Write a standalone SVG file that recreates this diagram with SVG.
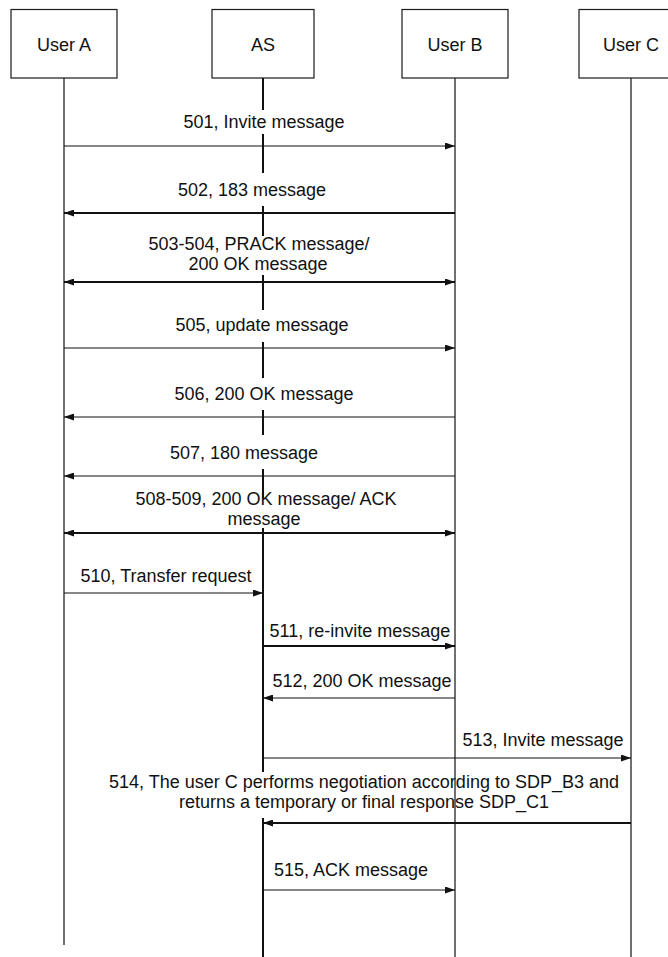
<svg xmlns="http://www.w3.org/2000/svg" width="668" height="957" viewBox="0 0 668 957">
  <style>
    .box { fill: #ffffff; stroke: #1a1a1a; stroke-width: 1.2; }
    .life { fill: none; stroke: #111111; stroke-width: 1.2; }
    .life-as { fill: none; stroke: #111111; stroke-width: 2; }
    .msg { fill: none; stroke: #111111; stroke-width: 1.2; }
    .msg-b { fill: none; stroke: #111111; stroke-width: 1.8; }
    .lbl { font-family: "Liberation Sans", Arial, sans-serif; font-size: 18px; fill: #111111; text-anchor: middle; }
  </style>
  <defs>
    <marker id="head" viewBox="0 0 10 7" refX="10" refY="3.5" markerWidth="10" markerHeight="7" markerUnits="userSpaceOnUse" orient="auto-start-reverse">
      <path d="M0,0 L10,3.5 L0,7 z" fill="#111111"/>
    </marker>
  </defs>
  <rect width="668" height="957" fill="#ffffff"/>

  <!-- participants -->
  <g id="user-a">
    <rect class="box" x="11" y="9.5" width="106" height="68.5"/>
    <text class="lbl" x="64" y="51">User A</text>
    <path class="life" d="M64,78 V945"/>
  </g>
  <g id="as">
    <rect class="box" x="212" y="9.5" width="102" height="68.5"/>
    <text class="lbl" x="263" y="51">AS</text>
    <!-- lifeline is interrupted where message labels sit on top of it -->
    <path class="life-as" d="M263,78 V110 M263,134 V173 M263,206 V236 M263,275 V310 M263,342 V378 M263,410 V435 M263,469 V498 M263,528 V772 M263,818 V957"/>
  </g>
  <g id="user-b">
    <rect class="box" x="402" y="9.5" width="106" height="68.5"/>
    <text class="lbl" x="455" y="51">User B</text>
    <path class="life" d="M455,78 V957"/>
  </g>
  <g id="user-c">
    <rect class="box" x="579" y="9.5" width="104" height="68.5"/>
    <text class="lbl" x="631" y="51">User C</text>
    <path class="life" d="M631,78 V957"/>
  </g>

  <!-- messages -->
  <g id="connectors">
    <path class="msg" d="M64,146 H455" marker-end="url(#head)"/>
    <path class="msg-b" d="M455,213 H64" marker-end="url(#head)"/>
    <path class="msg-b" d="M64,282 H455" marker-start="url(#head)" marker-end="url(#head)"/>
    <path class="msg" d="M64,348 H455" marker-end="url(#head)"/>
    <path class="msg" d="M455,417 H64" marker-end="url(#head)"/>
    <path class="msg" d="M455,476 H64" marker-end="url(#head)"/>
    <path class="msg-b" d="M64,533 H455" marker-start="url(#head)" marker-end="url(#head)"/>
    <path class="msg" d="M64,593 H263" marker-end="url(#head)"/>
    <path class="msg-b" d="M263,646 H455" marker-end="url(#head)"/>
    <path class="msg" d="M455,698 H263" marker-end="url(#head)"/>
    <path class="msg" d="M263,758 H631" marker-end="url(#head)"/>
    <path class="msg-b" d="M631,823 H263" marker-end="url(#head)"/>
    <path class="msg" d="M263,890 H455" marker-end="url(#head)"/>
  </g>

  <!-- message labels -->
  <g id="labels">
    <text class="lbl" x="264" y="128">501, Invite message</text>
    <text class="lbl" x="252" y="196">502, 183 message</text>
    <text class="lbl" x="259" y="250">503-504, PRACK message/</text>
    <text class="lbl" x="258" y="270">200 OK message</text>
    <text class="lbl" x="262" y="331">505, update message</text>
    <text class="lbl" x="264" y="400">506, 200 OK message</text>
    <text class="lbl" x="244" y="459">507, 180 message</text>
    <text class="lbl" x="266" y="505">508-509, 200 OK message/ ACK</text>
    <text class="lbl" x="264" y="525">message</text>
    <text class="lbl" x="166" y="582">510, Transfer request</text>
    <text class="lbl" x="360" y="637">511, re-invite message</text>
    <text class="lbl" x="362" y="687">512, 200 OK message</text>
    <text class="lbl" x="543" y="746">513, Invite message</text>
    <text class="lbl" x="364" y="788">514, The user C performs negotiation according to SDP_B3 and</text>
    <text class="lbl" x="364" y="808">returns a temporary or final response SDP_C1</text>
    <text class="lbl" x="351" y="876">515, ACK message</text>
  </g>
</svg>
